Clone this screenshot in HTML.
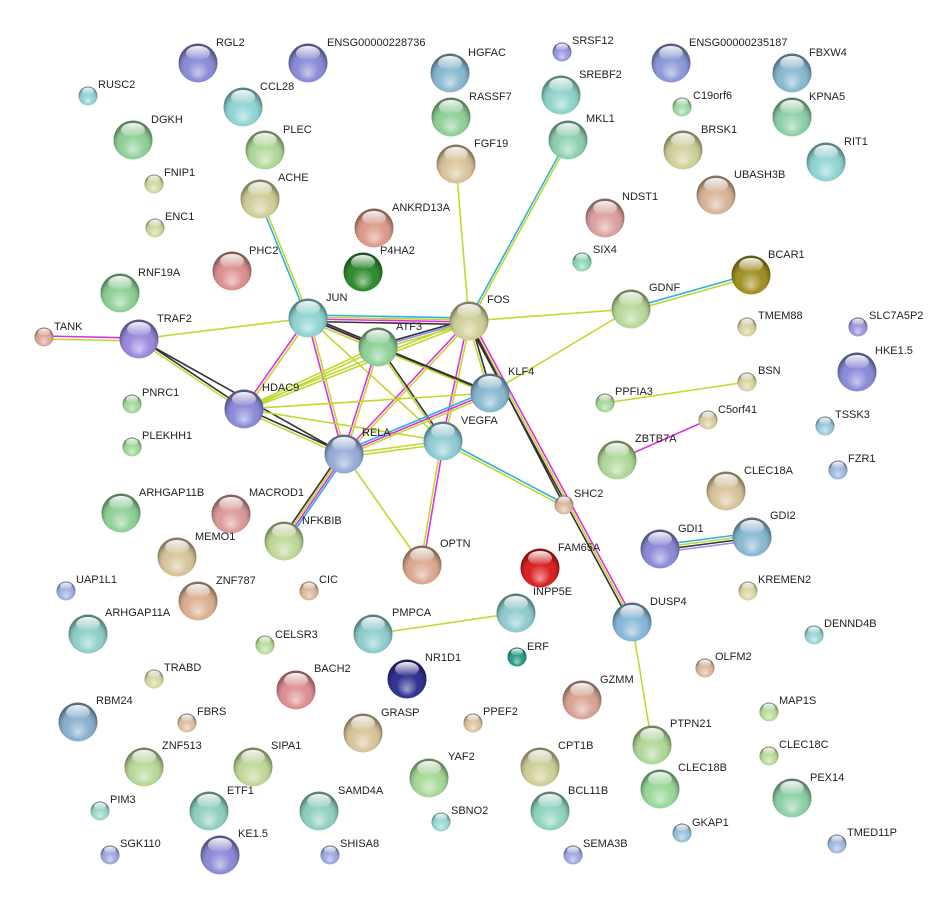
<!DOCTYPE html>
<html><head><meta charset="utf-8"><style>
html,body{margin:0;padding:0;background:#fff}
svg{display:block}
text{font-family:"Liberation Sans",sans-serif;font-size:11px;fill:#222}
</style></head><body>
<svg width="929" height="900" viewBox="0 0 929 900" xmlns="http://www.w3.org/2000/svg">
<defs>
<radialGradient id="sh" cx="50%" cy="58%" r="52%" fx="50%" fy="78%">
<stop offset="0" stop-color="#fff" stop-opacity=".55"/>
<stop offset=".55" stop-color="#fff" stop-opacity="0"/>
<stop offset=".85" stop-color="#000" stop-opacity=".12"/>
<stop offset="1" stop-color="#000" stop-opacity=".38"/>
</radialGradient>
<linearGradient id="hl" x1="0" y1="0" x2="0" y2="1">
<stop offset="0" stop-color="#fff" stop-opacity=".95"/>
<stop offset="1" stop-color="#fff" stop-opacity=".05"/>
</linearGradient>
<symbol id="L" overflow="visible"><circle cx="0" cy="0" r="19.5" fill="url(#sh)"/><ellipse cx="0" cy="-10" rx="12" ry="7" fill="url(#hl)"/></symbol>
<symbol id="S" overflow="visible"><circle cx="0" cy="0" r="9.5" fill="url(#sh)"/><ellipse cx="0" cy="-5" rx="6" ry="3.5" fill="url(#hl)"/></symbol>
</defs>

<g fill="none" stroke-width="1.6">
<!-- ACHE-JUN -->
<line x1="259" y1="199" x2="307" y2="318" stroke="#30b0e0"/><line x1="261.5" y1="199" x2="309.5" y2="318" stroke="#c0d830"/>
<!-- MKL1-FOS -->
<line x1="567" y1="140" x2="468" y2="321" stroke="#30b0e0"/><line x1="569.5" y1="140" x2="470.5" y2="321" stroke="#c0d830"/>
<line x1="456" y1="164" x2="469" y2="321" stroke="#c0d830"/>
<line x1="469" y1="321" x2="631" y2="309" stroke="#c0d830"/>
<line x1="631" y1="308" x2="751" y2="274" stroke="#30b0e0"/><line x1="631" y1="311" x2="751" y2="277" stroke="#c0d830"/>
<line x1="631" y1="309" x2="490" y2="393" stroke="#c0d830"/>
<!-- TANK-TRAF2 -->
<line x1="44" y1="336" x2="139" y2="338" stroke="#e030e0"/><line x1="44" y1="339" x2="139" y2="341" stroke="#c0d830"/>
<line x1="139" y1="339" x2="308" y2="318" stroke="#c0d830"/>
<line x1="139" y1="338" x2="244" y2="408" stroke="#333"/><line x1="139" y1="341" x2="244" y2="411" stroke="#c0d830"/>
<line x1="139" y1="339" x2="344" y2="454" stroke="#333"/>
<!-- JUN-FOS -->
<line x1="308" y1="315" x2="469" y2="318" stroke="#30b0e0"/><line x1="308" y1="317" x2="469" y2="320" stroke="#c0d830"/><line x1="308" y1="319" x2="469" y2="322" stroke="#e030e0"/><line x1="308" y1="321.5" x2="469" y2="324.5" stroke="#333"/>
<!-- JUN-ATF3 -->
<line x1="308" y1="316" x2="378" y2="345" stroke="#333"/><line x1="308" y1="318.5" x2="378" y2="347.5" stroke="#e030e0"/><line x1="308" y1="321" x2="378" y2="350" stroke="#c0d830"/>
<line x1="307" y1="318" x2="243" y2="409" stroke="#e030e0"/><line x1="309.5" y1="319" x2="245.5" y2="410" stroke="#c0d830"/>
<line x1="307" y1="318" x2="343" y2="454" stroke="#e030e0"/><line x1="309.5" y1="318" x2="345.5" y2="454" stroke="#c0d830"/>
<line x1="308" y1="318" x2="490" y2="393" stroke="#333"/>
<line x1="308" y1="318" x2="443" y2="441" stroke="#c0d830"/>
<!-- FOS-ATF3 -->
<line x1="469" y1="319" x2="378" y2="345" stroke="#333"/><line x1="469" y1="321" x2="378" y2="347" stroke="#9090f0"/><line x1="469" y1="323.5" x2="378" y2="349.5" stroke="#c0d830"/>
<line x1="469" y1="320" x2="244" y2="408" stroke="#c0d830"/><line x1="469" y1="323" x2="244" y2="411" stroke="#c0d830"/>
<line x1="468" y1="321" x2="343" y2="454" stroke="#e030e0"/><line x1="470.5" y1="322" x2="345.5" y2="455" stroke="#c0d830"/>
<line x1="468" y1="321" x2="489" y2="393" stroke="#c0d830"/><line x1="470.5" y1="321" x2="491.5" y2="393" stroke="#333"/>
<line x1="468" y1="321" x2="442" y2="441" stroke="#e030e0"/><line x1="470.5" y1="321" x2="444.5" y2="441" stroke="#c0d830"/>
<line x1="467" y1="321" x2="630" y2="622" stroke="#333"/><line x1="469.5" y1="321" x2="632.5" y2="622" stroke="#c0d830"/><line x1="472" y1="321" x2="635" y2="622" stroke="#e030e0"/>
<line x1="469" y1="321" x2="564" y2="505" stroke="#333"/>
<!-- ATF3 -->
<line x1="378" y1="346" x2="244" y2="408" stroke="#c0d830"/><line x1="378" y1="349" x2="244" y2="411" stroke="#c0d830"/>
<line x1="377" y1="347" x2="343" y2="454" stroke="#e030e0"/><line x1="379.5" y1="347" x2="345.5" y2="454" stroke="#c0d830"/>
<line x1="378" y1="346" x2="490" y2="392" stroke="#333"/><line x1="378" y1="348.5" x2="490" y2="394.5" stroke="#c0d830"/>
<line x1="377" y1="347" x2="442" y2="441" stroke="#c0d830"/><line x1="379.5" y1="347" x2="444.5" y2="441" stroke="#333"/>
<!-- HDAC9 -->
<line x1="244" y1="408" x2="344" y2="453" stroke="#333"/><line x1="244" y1="411" x2="344" y2="456" stroke="#c0d830"/>
<line x1="244" y1="409" x2="443" y2="441" stroke="#c0d830"/>
<line x1="244" y1="409" x2="490" y2="393" stroke="#c0d830"/>
<!-- RELA -->
<line x1="344" y1="451" x2="490" y2="390" stroke="#30b0e0"/><line x1="344" y1="453.5" x2="490" y2="392.5" stroke="#e030e0"/><line x1="344" y1="456" x2="490" y2="395" stroke="#c0d830"/>
<line x1="344" y1="454" x2="443" y2="441" stroke="#c0d830"/><line x1="344" y1="457" x2="443" y2="444" stroke="#c0d830"/>
<line x1="340" y1="454" x2="280" y2="541" stroke="#333"/><line x1="342.5" y1="454" x2="282.5" y2="541" stroke="#c0d830"/><line x1="345" y1="454" x2="285" y2="541" stroke="#e030e0"/><line x1="347.5" y1="454" x2="287.5" y2="541" stroke="#30b0e0"/>
<line x1="344" y1="454" x2="422" y2="565" stroke="#c0d830"/>
<!-- VEGFA -->
<line x1="441.5" y1="441" x2="420.5" y2="565" stroke="#c0d830"/><line x1="444" y1="441" x2="423" y2="565" stroke="#e030e0"/>
<line x1="443" y1="439.5" x2="564" y2="503.5" stroke="#30b0e0"/><line x1="443" y1="442.5" x2="564" y2="506.5" stroke="#c0d830"/>
<line x1="632" y1="622" x2="652" y2="745" stroke="#c0d830"/>
<line x1="373" y1="634" x2="516" y2="613" stroke="#c0d830"/>
<line x1="605" y1="403" x2="747" y2="382" stroke="#c0d830"/>
<line x1="617" y1="460" x2="708" y2="420" stroke="#e030e0"/>
<line x1="660" y1="545" x2="752" y2="533" stroke="#30b0e0"/><line x1="660" y1="547.5" x2="752" y2="535.5" stroke="#c0d830"/><line x1="660" y1="550" x2="752" y2="538" stroke="#333"/><line x1="660" y1="552.5" x2="752" y2="540.5" stroke="#9090f0"/>
</g>

<g id="nodes">
<!-- large nodes -->
<g>
<circle cx="198" cy="63" r="19.5" fill="#8a8ad8"/><use href="#L" x="198" y="63"/>
<circle cx="308" cy="63" r="19.5" fill="#8a8ad8"/><use href="#L" x="308" y="63"/>
<circle cx="450" cy="73" r="19.5" fill="#88b8d0"/><use href="#L" x="450" y="73"/>
<circle cx="671" cy="63" r="19.5" fill="#8a98d8"/><use href="#L" x="671" y="63"/>
<circle cx="792" cy="73" r="19.5" fill="#88b8d0"/><use href="#L" x="792" y="73"/>
<circle cx="243" cy="107" r="19.5" fill="#8fd4d4"/><use href="#L" x="243" y="107"/>
<circle cx="451" cy="117" r="19.5" fill="#8fd098"/><use href="#L" x="451" y="117"/>
<circle cx="561" cy="95" r="19.5" fill="#8fd4c8"/><use href="#L" x="561" y="95"/>
<circle cx="133" cy="140" r="19.5" fill="#8fd098"/><use href="#L" x="133" y="140"/>
<circle cx="265" cy="150" r="19.5" fill="#b0d898"/><use href="#L" x="265" y="150"/>
<circle cx="568" cy="140" r="19.5" fill="#8fd0b0"/><use href="#L" x="568" y="140"/>
<circle cx="792" cy="117" r="19.5" fill="#8fd0a8"/><use href="#L" x="792" y="117"/>
<circle cx="683" cy="150" r="19.5" fill="#cfcf98"/><use href="#L" x="683" y="150"/>
<circle cx="826" cy="162" r="19.5" fill="#8fd4d4"/><use href="#L" x="826" y="162"/>
<circle cx="456" cy="164" r="19.5" fill="#d8c49a"/><use href="#L" x="456" y="164"/>
<circle cx="260" cy="199" r="19.5" fill="#cfcf98"/><use href="#L" x="260" y="199"/>
<circle cx="716" cy="195" r="19.5" fill="#d8b498"/><use href="#L" x="716" y="195"/>
<circle cx="605" cy="218" r="19.5" fill="#dca0a0"/><use href="#L" x="605" y="218"/>
<circle cx="374" cy="228" r="19.5" fill="#dc9a8a"/><use href="#L" x="374" y="228"/>
<circle cx="363" cy="272" r="19.5" fill="#2e8a2e"/><use href="#L" x="363" y="272"/>
<circle cx="232" cy="271" r="19.5" fill="#dc9090"/><use href="#L" x="232" y="271"/>
<circle cx="751" cy="275" r="19.5" fill="#a09020"/><use href="#L" x="751" y="275"/>
<circle cx="120" cy="293" r="19.5" fill="#8fd098"/><use href="#L" x="120" y="293"/>
<circle cx="308" cy="318" r="19.5" fill="#8fd4d4"/><use href="#L" x="308" y="318"/>
<circle cx="469" cy="321" r="19.5" fill="#cfcf98"/><use href="#L" x="469" y="321"/>
<circle cx="631" cy="309" r="19.5" fill="#b8d898"/><use href="#L" x="631" y="309"/>
<circle cx="139" cy="339" r="19.5" fill="#9a88dc"/><use href="#L" x="139" y="339"/>
<circle cx="378" cy="347" r="19.5" fill="#8fd098"/><use href="#L" x="378" y="347"/>
<circle cx="857" cy="372" r="19.5" fill="#8a8ad8"/><use href="#L" x="857" y="372"/>
<circle cx="490" cy="393" r="19.5" fill="#88b8d0"/><use href="#L" x="490" y="393"/>
<circle cx="244" cy="409" r="19.5" fill="#8a8ad8"/><use href="#L" x="244" y="409"/>
<circle cx="344" cy="454" r="19.5" fill="#98acd8"/><use href="#L" x="344" y="454"/>
<circle cx="443" cy="441" r="19.5" fill="#8fccd4"/><use href="#L" x="443" y="441"/>
<circle cx="617" cy="460" r="19.5" fill="#b0d898"/><use href="#L" x="617" y="460"/>
<circle cx="726" cy="491" r="19.5" fill="#d8c49a"/><use href="#L" x="726" y="491"/>
<circle cx="121" cy="513" r="19.5" fill="#8fd098"/><use href="#L" x="121" y="513"/>
<circle cx="231" cy="514" r="19.5" fill="#dc9a9a"/><use href="#L" x="231" y="514"/>
<circle cx="660" cy="549" r="19.5" fill="#8a8ad8"/><use href="#L" x="660" y="549"/>
<circle cx="752" cy="537" r="19.5" fill="#88b8d0"/><use href="#L" x="752" y="537"/>
<circle cx="284" cy="541" r="19.5" fill="#c0d898"/><use href="#L" x="284" y="541"/>
<circle cx="540" cy="568" r="19.5" fill="#d82020"/><use href="#L" x="540" y="568"/>
<circle cx="177" cy="557" r="19.5" fill="#d8c49a"/><use href="#L" x="177" y="557"/>
<circle cx="422" cy="565" r="19.5" fill="#dca890"/><use href="#L" x="422" y="565"/>
<circle cx="198" cy="601" r="19.5" fill="#dcb090"/><use href="#L" x="198" y="601"/>
<circle cx="516" cy="613" r="19.5" fill="#8fcccc"/><use href="#L" x="516" y="613"/>
<circle cx="632" cy="622" r="19.5" fill="#88b8d8"/><use href="#L" x="632" y="622"/>
<circle cx="88" cy="634" r="19.5" fill="#8fd0c8"/><use href="#L" x="88" y="634"/>
<circle cx="373" cy="634" r="19.5" fill="#8fcccc"/><use href="#L" x="373" y="634"/>
<circle cx="407" cy="679" r="19.5" fill="#303090"/><use href="#L" x="407" y="679"/>
<circle cx="296" cy="690" r="19.5" fill="#dc9090"/><use href="#L" x="296" y="690"/>
<circle cx="582" cy="700" r="19.5" fill="#d8a494"/><use href="#L" x="582" y="700"/>
<circle cx="78" cy="722" r="19.5" fill="#88b0d0"/><use href="#L" x="78" y="722"/>
<circle cx="363" cy="733" r="19.5" fill="#d8c49a"/><use href="#L" x="363" y="733"/>
<circle cx="144" cy="767" r="19.5" fill="#b8d898"/><use href="#L" x="144" y="767"/>
<circle cx="253" cy="767" r="19.5" fill="#c0d898"/><use href="#L" x="253" y="767"/>
<circle cx="429" cy="778" r="19.5" fill="#a8d898"/><use href="#L" x="429" y="778"/>
<circle cx="540" cy="767" r="19.5" fill="#cfcf98"/><use href="#L" x="540" y="767"/>
<circle cx="652" cy="745" r="19.5" fill="#b0d898"/><use href="#L" x="652" y="745"/>
<circle cx="660" cy="789" r="19.5" fill="#98d898"/><use href="#L" x="660" y="789"/>
<circle cx="792" cy="798" r="19.5" fill="#8fd0a8"/><use href="#L" x="792" y="798"/>
<circle cx="209" cy="811" r="19.5" fill="#8fd0c0"/><use href="#L" x="209" y="811"/>
<circle cx="319" cy="811" r="19.5" fill="#8fd0c0"/><use href="#L" x="319" y="811"/>
<circle cx="550" cy="811" r="19.5" fill="#8fd4c0"/><use href="#L" x="550" y="811"/>
<circle cx="220" cy="855" r="19.5" fill="#8a8ad8"/><use href="#L" x="220" y="855"/>
</g>
<!-- small nodes -->
<g>
<circle cx="562" cy="52" r="9.5" fill="#9a98dc"/><use href="#S" x="562" y="52"/>
<circle cx="88" cy="96" r="9.5" fill="#8fd4d4"/><use href="#S" x="88" y="96"/>
<circle cx="682" cy="107" r="9.5" fill="#a0d8a8"/><use href="#S" x="682" y="107"/>
<circle cx="154" cy="184" r="9.5" fill="#d0d8a0"/><use href="#S" x="154" y="184"/>
<circle cx="155" cy="228" r="9.5" fill="#d0d8a0"/><use href="#S" x="155" y="228"/>
<circle cx="582" cy="262" r="9.5" fill="#8fd8b0"/><use href="#S" x="582" y="262"/>
<circle cx="44" cy="337" r="9.5" fill="#dca898"/><use href="#S" x="44" y="337"/>
<circle cx="747" cy="327" r="9.5" fill="#d8d4a0"/><use href="#S" x="747" y="327"/>
<circle cx="858" cy="327" r="9.5" fill="#9a98dc"/><use href="#S" x="858" y="327"/>
<circle cx="747" cy="382" r="9.5" fill="#d8d4a0"/><use href="#S" x="747" y="382"/>
<circle cx="605" cy="403" r="9.5" fill="#a8d898"/><use href="#S" x="605" y="403"/>
<circle cx="132" cy="404" r="9.5" fill="#a0d898"/><use href="#S" x="132" y="404"/>
<circle cx="825" cy="426" r="9.5" fill="#98c8dc"/><use href="#S" x="825" y="426"/>
<circle cx="708" cy="420" r="9.5" fill="#d8d0a0"/><use href="#S" x="708" y="420"/>
<circle cx="132" cy="447" r="9.5" fill="#a0d898"/><use href="#S" x="132" y="447"/>
<circle cx="838" cy="470" r="9.5" fill="#a0b8e0"/><use href="#S" x="838" y="470"/>
<circle cx="564" cy="505" r="9.5" fill="#dcb8a0"/><use href="#S" x="564" y="505"/>
<circle cx="309" cy="591" r="9.5" fill="#dcb898"/><use href="#S" x="309" y="591"/>
<circle cx="66" cy="591" r="9.5" fill="#a0b0e0"/><use href="#S" x="66" y="591"/>
<circle cx="748" cy="591" r="9.5" fill="#d8d8a0"/><use href="#S" x="748" y="591"/>
<circle cx="265" cy="645" r="9.5" fill="#b8dc98"/><use href="#S" x="265" y="645"/>
<circle cx="517" cy="657" r="9.5" fill="#2a9a8a"/><use href="#S" x="517" y="657"/>
<circle cx="814" cy="635" r="9.5" fill="#98d4d4"/><use href="#S" x="814" y="635"/>
<circle cx="154" cy="679" r="9.5" fill="#d8d8a0"/><use href="#S" x="154" y="679"/>
<circle cx="705" cy="668" r="9.5" fill="#dcb8a0"/><use href="#S" x="705" y="668"/>
<circle cx="187" cy="723" r="9.5" fill="#dcc0a0"/><use href="#S" x="187" y="723"/>
<circle cx="473" cy="723" r="9.5" fill="#dcc0a0"/><use href="#S" x="473" y="723"/>
<circle cx="769" cy="712" r="9.5" fill="#b8dc98"/><use href="#S" x="769" y="712"/>
<circle cx="769" cy="756" r="9.5" fill="#b8dc98"/><use href="#S" x="769" y="756"/>
<circle cx="100" cy="811" r="9.5" fill="#98d8c8"/><use href="#S" x="100" y="811"/>
<circle cx="441" cy="822" r="9.5" fill="#98d8d4"/><use href="#S" x="441" y="822"/>
<circle cx="682" cy="833" r="9.5" fill="#98c0dc"/><use href="#S" x="682" y="833"/>
<circle cx="110" cy="855" r="9.5" fill="#a0a8e0"/><use href="#S" x="110" y="855"/>
<circle cx="330" cy="855" r="9.5" fill="#a0a8e0"/><use href="#S" x="330" y="855"/>
<circle cx="573" cy="855" r="9.5" fill="#a0a8e0"/><use href="#S" x="573" y="855"/>
<circle cx="837" cy="844" r="9.5" fill="#a0b8e0"/><use href="#S" x="837" y="844"/>
</g>
</g>

<g>
<text x="216" y="46">RGL2</text>
<text x="327" y="46">ENSG00000228736</text>
<text x="468" y="56">HGFAC</text>
<text x="689" y="46">ENSG00000235187</text>
<text x="809" y="56">FBXW4</text>
<text x="260" y="90">CCL28</text>
<text x="469" y="100">RASSF7</text>
<text x="579" y="78">SREBF2</text>
<text x="151" y="123">DGKH</text>
<text x="283" y="133">PLEC</text>
<text x="586" y="122">MKL1</text>
<text x="809" y="100">KPNA5</text>
<text x="701" y="133">BRSK1</text>
<text x="844" y="145">RIT1</text>
<text x="474" y="147">FGF19</text>
<text x="278" y="181">ACHE</text>
<text x="734" y="178">UBASH3B</text>
<text x="622" y="200">NDST1</text>
<text x="392" y="211">ANKRD13A</text>
<text x="380" y="254">P4HA2</text>
<text x="249" y="254">PHC2</text>
<text x="768" y="258">BCAR1</text>
<text x="138" y="276">RNF19A</text>
<text x="326" y="301">JUN</text>
<text x="487" y="303">FOS</text>
<text x="649" y="291">GDNF</text>
<text x="157" y="322">TRAF2</text>
<text x="396" y="330">ATF3</text>
<text x="875" y="354">HKE1.5</text>
<text x="508" y="375">KLF4</text>
<text x="262" y="391">HDAC9</text>
<text x="362" y="436">RELA</text>
<text x="461" y="424">VEGFA</text>
<text x="635" y="442">ZBTB7A</text>
<text x="744" y="474">CLEC18A</text>
<text x="139" y="496">ARHGAP11B</text>
<text x="249" y="496">MACROD1</text>
<text x="678" y="532">GDI1</text>
<text x="770" y="519">GDI2</text>
<text x="302" y="524">NFKBIB</text>
<text x="558" y="551">FAM65A</text>
<text x="195" y="540">MEMO1</text>
<text x="440" y="547">OPTN</text>
<text x="216" y="584">ZNF787</text>
<text x="533" y="595">INPP5E</text>
<text x="650" y="605">DUSP4</text>
<text x="105" y="616">ARHGAP11A</text>
<text x="392" y="616">PMPCA</text>
<text x="425" y="661">NR1D1</text>
<text x="314" y="672">BACH2</text>
<text x="600" y="683">GZMM</text>
<text x="96" y="704">RBM24</text>
<text x="381" y="716">GRASP</text>
<text x="162" y="749">ZNF513</text>
<text x="271" y="749">SIPA1</text>
<text x="448" y="760">YAF2</text>
<text x="558" y="749">CPT1B</text>
<text x="670" y="727">PTPN21</text>
<text x="678" y="771">CLEC18B</text>
<text x="810" y="781">PEX14</text>
<text x="227" y="794">ETF1</text>
<text x="338" y="794">SAMD4A</text>
<text x="568" y="794">BCL11B</text>
<text x="238" y="837">KE1.5</text>
<text x="572" y="44">SRSF12</text>
<text x="98" y="88">RUSC2</text>
<text x="693" y="99">C19orf6</text>
<text x="164" y="176">FNIP1</text>
<text x="165" y="220">ENC1</text>
<text x="593" y="253">SIX4</text>
<text x="54" y="330">TANK</text>
<text x="758" y="319">TMEM88</text>
<text x="869" y="319">SLC7A5P2</text>
<text x="758" y="374">BSN</text>
<text x="615" y="395">PPFIA3</text>
<text x="142" y="396">PNRC1</text>
<text x="835" y="418">TSSK3</text>
<text x="718" y="413">C5orf41</text>
<text x="142" y="439">PLEKHH1</text>
<text x="848" y="462">FZR1</text>
<text x="574" y="497">SHC2</text>
<text x="319" y="583">CIC</text>
<text x="76" y="583">UAP1L1</text>
<text x="758" y="583">KREMEN2</text>
<text x="275" y="638">CELSR3</text>
<text x="527" y="650">ERF</text>
<text x="824" y="627">DENND4B</text>
<text x="164" y="671">TRABD</text>
<text x="715" y="660">OLFM2</text>
<text x="197" y="715">FBRS</text>
<text x="483" y="715">PPEF2</text>
<text x="779" y="704">MAP1S</text>
<text x="779" y="748">CLEC18C</text>
<text x="110" y="803">PIM3</text>
<text x="451" y="814">SBNO2</text>
<text x="692" y="826">GKAP1</text>
<text x="120" y="847">SGK110</text>
<text x="340" y="847">SHISA8</text>
<text x="583" y="847">SEMA3B</text>
<text x="847" y="836">TMED11P</text>
</g>
</svg>
</body></html>
